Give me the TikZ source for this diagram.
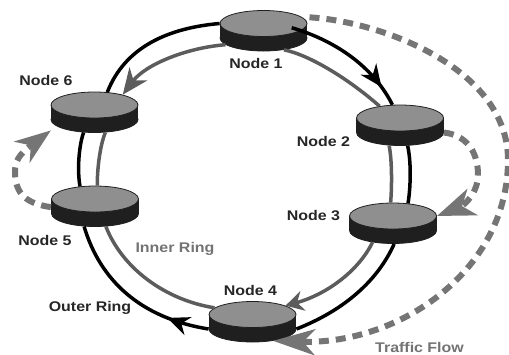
\documentclass[tikz,border=0pt]{standalone}
\usepackage{fontspec}
\setmainfont[FakeStretch=1.14]{Liberation Sans}
\usetikzlibrary{arrows.meta,shapes.geometric,decorations.markings}
\definecolor{discgray}{gray}{0.56}
\definecolor{discdark}{gray}{0.12}
\definecolor{ringgray}{gray}{0.36}
\definecolor{flowgray}{gray}{0.46}
\tikzset{
    disctop/.style={ellipse,draw=discdark,fill=discgray,line width=0.8pt,inner sep=0pt,minimum width=87bp,minimum height=26bp},
    discbase/.style={ellipse,draw=discdark,fill=discdark,line width=0.8pt,inner sep=0pt,minimum width=87bp,minimum height=26bp},
    outerring/.style={draw=black,line width=3.5bp},
    innerring/.style={draw=ringgray,line width=3.5bp},
    flow/.style={draw=flowgray,line width=6bp,dash pattern=on 10bp off 7bp},
    lbl/.style={font=\bfseries\fontsize{14bp}{16bp}\selectfont,text=black!85,inner sep=0pt},
    graylbl/.style={lbl,text=black!55},
    blackarrow/.style={postaction={decorate},decoration={markings,mark=at position #1 with {\arrow{Stealth[length=22bp,width=19bp,inset=7bp]}}}},
}
% one disc, #2 is the centre of its top face
\newcommand{\ringdisc}[2]{%
    \node[discbase] (#1b) at ([yshift=-14.5bp]#2) {};
    \fill[discdark] (#1b.west) rectangle ([yshift=14.5bp]#1b.east);
    \node[disctop] (#1) at (#2) {};
}
\begin{document}
\begin{tikzpicture}[x=1bp,y=-1bp]
    \useasboundingbox (0,0) rectangle (509,354);
    % discs
    \ringdisc{n1}{263.5,23.5}
    \ringdisc{n2}{400,118}
    \ringdisc{n3}{393,216}
    \ringdisc{n4}{252.5,314.5}
    \ringdisc{n5}{95,199}
    \ringdisc{n6}{94.5,105}
    % outer ring
    \draw[outerring,blackarrow=0.84] (n1b.20) .. controls (340,42) and (375,70) .. (n2.120);
    \draw[outerring] (n2b.-60) .. controls (411,160) and (411,185) .. (n3.40);
    \draw[outerring] (n3b.-85) .. controls (378,280) and (345,310) .. (n4b.east);
    \draw[outerring,blackarrow=0.25] (n4b.west) .. controls (140,318) and (100,280) .. (n5b.-130);
    \draw[outerring] (n5.140) .. controls (77,170) and (79,145) .. (n6b.-130);
    \draw[outerring] (n6.45) .. controls (125,47) and (168,28) .. (n1.west);
    % inner ring
    \draw[innerring] (n1b.-30) .. controls (310,55) and (350,80) .. (n2.150);
    \draw[innerring] (n2b.-130) .. controls (392,160) and (392,185) .. (n3.100);
    \draw[innerring,-{Stealth[length=18bp,width=20bp,inset=6bp]}] (n3b.-150) .. controls (358,272) and (325,295) .. (n4.15);
    \draw[innerring] (n5b.-50) .. controls (122,268) and (165,300) .. (n4.170);
    \draw[innerring] (n5.80) .. controls (97,170) and (100,145) .. (n6b.-50);
    \draw[innerring,-{Stealth[length=26bp,width=22bp,inset=8bp]}] (n1b.190) .. controls (185,48) and (145,65) .. (n6.20);
    % traffic flow
    \coordinate (farright) at (508,160);
    \coordinate (nearright) at (478,175);
    \coordinate (farleft) at (15,172);
    \draw[flow,shorten <=8bp,-{Stealth[length=42bp,width=26bp,inset=12bp]}] (n1.10) .. controls (385,22) and (508,70) .. (farright) .. controls (508,270) and (400,345) .. (n4b.-30);
    \draw[flow,-{Stealth[length=38bp,width=28bp,inset=11bp]}] (n2b.east) .. controls (465,135) and (478,150) .. (nearright) .. controls (478,192) and (465,205) .. (n3.east);
    \draw[flow,shorten <=16bp,shorten >=7bp,-{Stealth[length=36bp,width=26bp,inset=11bp]}] (n5.200) .. controls (28,204) and (15,195) .. (farleft) .. controls (15,162) and (18,155) .. (n6b.190);
    % labels
    \node[lbl] (label1) at (256,63) {Node 1};
    \node[lbl] (label2) at (323.5,141) {Node 2};
    \node[lbl] (label3) at (313.5,215) {Node 3};
    \node[lbl] (label4) at (250.5,290) {Node 4};
    \node[lbl] (label5) at (45,240) {Node 5};
    \node[lbl] (label6) at (46,80) {Node 6};
    \node[graylbl] (innerlabel) at (175,249) {Inner Ring};
    \node[lbl] (outerlabel) at (90,308) {Outer Ring};
    \node[graylbl] (flowlabel) at (419.5,347) {Traffic Flow};
\end{tikzpicture}
\end{document}
